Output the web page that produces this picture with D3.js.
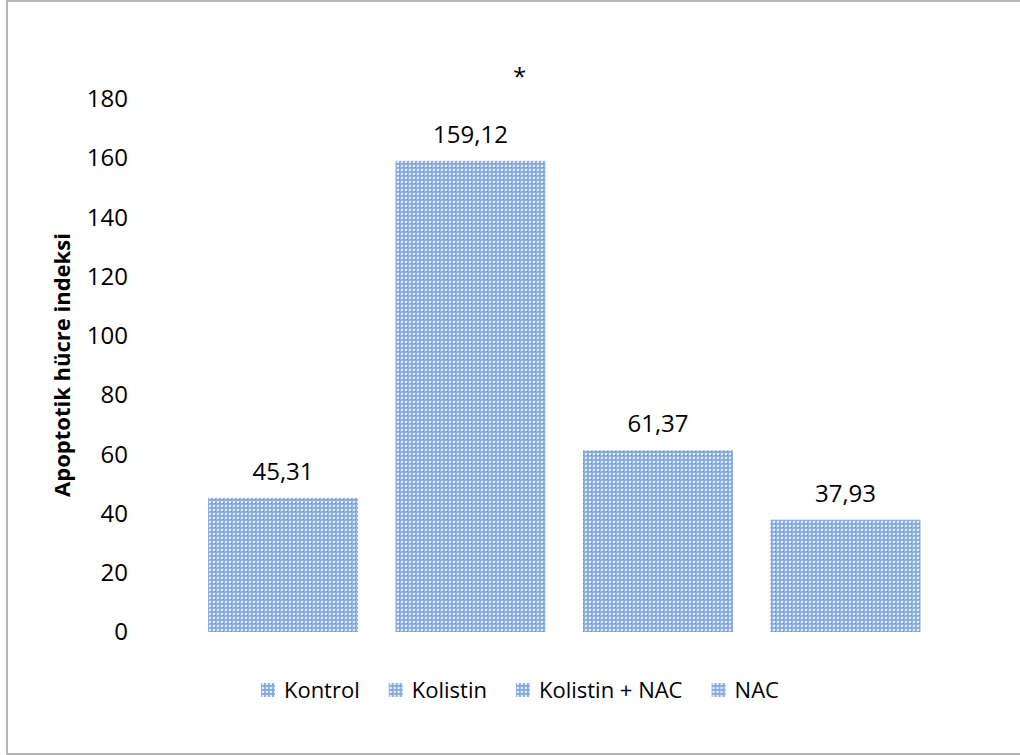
<!DOCTYPE html>
<html><head><meta charset="utf-8">
<script src="https://cdn.jsdelivr.net/npm/d3@7/dist/d3.min.js"></script>
<style>body{margin:0;background:#fff}svg{display:block}text{font-family:"Open Sans",sans-serif}</style>
</head><body><svg id="c" width="1020" height="755"></svg>
<script>
const categories = ["Kontrol", "Kolistin", "Kolistin + NAC", "NAC"];
const values = [45.31, 159.12, 61.37, 37.93];
const valueLabels = ["45,31", "159,12", "61,37", "37,93"];
const yTicks = [0, 20, 40, 60, 80, 100, 120, 140, 160, 180];
const yTitle = "Apoptotik hücre indeksi";
const significance = ["", "*", "", ""];

const svg = d3.select("#c");
const defs = svg.append("defs");
const pat = defs.append("pattern").attr("id","chk").attr("patternUnits","userSpaceOnUse")
  .attr("width",4).attr("height",4);
pat.append("rect").attr("width",4).attr("height",4).attr("fill","#8fb0e3");
pat.append("rect").attr("x",1).attr("y",1).attr("width",2).attr("height",2).attr("fill","#e6eef9");
pat.append("rect").attr("x",3).attr("y",3).attr("width",1).attr("height",1).attr("fill","#6690d0");

// border
svg.append("rect").attr("x",7).attr("y",1).attr("width",1030).attr("height",753)
  .attr("fill","none").attr("stroke","#a0a0a0").attr("stroke-width",1.5);

const x = d3.scaleBand().domain(categories).range([189.25, 939.25]).paddingInner(0.2).paddingOuter(0.1);
const y = d3.scaleLinear().domain([0,180]).range([632,99]);

// y axis labels
const yAxis = d3.axisLeft(y).tickValues(yTicks).tickSize(0).tickPadding(0);
const gy = svg.append("g").attr("transform","translate(128,0)").call(yAxis);
gy.select(".domain").remove();
gy.selectAll("text").attr("font-size",24).attr("fill","#000").attr("font-family","'Open Sans',sans-serif");

// bars
svg.append("g").selectAll("rect").data(categories).join("rect")
  .attr("x",d=>x(d)).attr("width",x.bandwidth())
  .attr("y",(d,i)=>y(values[i])).attr("height",(d,i)=>y(0)-y(values[i]))
  .attr("fill","url(#chk)");

// value labels
svg.append("g").selectAll("text").data(categories).join("text")
  .attr("x",d=>x(d)+x.bandwidth()/2).attr("y",(d,i)=>y(values[i])-18)
  .attr("text-anchor","middle").attr("font-size",24).attr("fill","#000")
  .text((d,i)=>valueLabels[i]);

// significance markers
svg.append("g").selectAll("text").data(categories).join("text")
  .attr("x",d=>x(d)+x.bandwidth()/2+49).attr("y",(d,i)=>y(values[i])-76)
  .attr("text-anchor","middle").attr("font-size",24).attr("fill","#000")
  .text((d,i)=>significance[i]);

// y title
svg.append("text").attr("transform","translate(70,365) rotate(-90)")
  .attr("text-anchor","middle").attr("font-size",22).attr("font-weight","bold").attr("fill","#000")
  .text(yTitle);

// legend
const lg = svg.append("g");
const items = lg.selectAll("g").data(categories).join("g");
items.append("rect").attr("width",14).attr("height",14).attr("y",-15).attr("fill","url(#chk)");
items.append("text").attr("x",23).attr("y",0).attr("font-size",22).attr("fill","#000").text(d=>d);
let widths = [];
items.each(function(){ widths.push(this.getBBox().width); });
const gap = 29;
const total = d3.sum(widths) + gap*(widths.length-1);
let cx = 520 - total/2;
items.attr("transform",(d,i)=>{ const t = `translate(${cx},${698})`; cx += widths[i]+gap; return t; });
</script></body></html>
